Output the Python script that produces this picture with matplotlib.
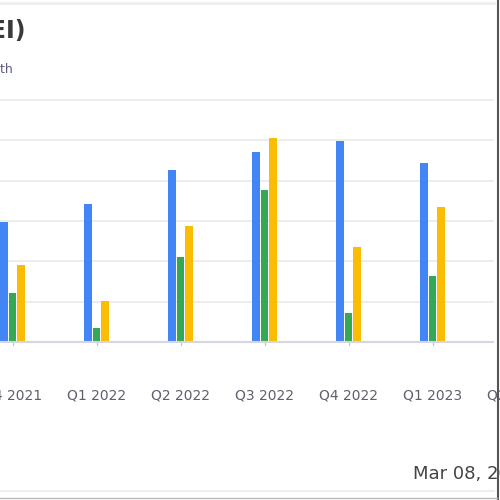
import matplotlib
matplotlib.use("Agg")
import matplotlib.pyplot as plt
from matplotlib.lines import Line2D
import numpy as np

quarters = ["Q4 2021", "Q1 2022", "Q2 2022", "Q3 2022", "Q4 2022", "Q1 2023", "Q2 2023"]
blue_vals = [2.98, 3.42, 4.27, 4.71, 4.99, 4.44]
green_vals = [1.22, 0.35, 2.11, 3.77, 0.72, 1.64]
yellow_vals = [1.91, 1.02, 2.88, 5.06, 2.36, 3.35]
series_colors = ["#4285F4", "#34A853", "#FBBC04"]
title_text = "Quarterly Financials (NYSE:EI)"
subtitle_text = "Quarterly growth"
date_text = "Mar 08, 2024"

W = H = 500
fig = plt.figure(figsize=(5, 5), dpi=100)
fig.patch.set_facecolor("white")

# axes placement (pixels): left 0, right 493, baseline 342, top ~98
ax_left, ax_right, ax_bottom = 0, 493, 342
ymax = 6.05
unit_px = 40.33
ax_top = ax_bottom - ymax * unit_px
ax = fig.add_axes([ax_left / W, 1 - ax_bottom / H, (ax_right - ax_left) / W, (ax_bottom - ax_top) / H])

spacing = 84.0
c0 = 12.5
xmin = (ax_left - c0) / spacing
xmax = (ax_right - c0) / spacing
ax.set_xlim(xmin, xmax)
ax.set_ylim(0, ymax)

x = np.arange(len(blue_vals))
w = 0.095
off = 0.105
ax.bar(x - off, blue_vals, w, color=series_colors[0], zorder=3)
ax.bar(x, green_vals, w, color=series_colors[1], zorder=3)
ax.bar(x + off, yellow_vals, w, color=series_colors[2], zorder=3)

for yv in range(1, 7):
    ax.axhline(yv, color="#ececec", lw=1.3, zorder=1, clip_on=False)
ax.axhline(0, color="#d6d6e2", lw=1.5, zorder=4, clip_on=False)

for s in ax.spines.values():
    s.set_visible(False)
ax.set_xticks([])
ax.set_yticks([])
ax.patch.set_alpha(0)

# tick marks and labels
for i, q in enumerate(quarters):
    ax.plot([i, i], [0, -0.07], color="#c8c8d4", lw=1, clip_on=False, zorder=4)
    ax.text(i, -1.33, q, ha="center", va="center", fontsize=10, color="#5f5f6e", clip_on=False)

# title and subtitle (cut by the crop on the left)
fig.text(25 / W, 1 - 31 / H, title_text, ha="right", va="center", fontsize=17,
         fontweight="semibold", color="#3a3a3a")
fig.text(13 / W, 1 - 70 / H, subtitle_text, ha="right", va="center", fontsize=9,
         color="#5c5c80")

# date
fig.text(413 / W, 1 - 474 / H, date_text, ha="left", va="center", fontsize=13, color="#444444")

# frame lines
fig.add_artist(Line2D([0, 494 / W], [1 - 3 / H, 1 - 3 / H], color="#eeeeee", lw=2))
fig.add_artist(Line2D([0, 494 / W], [1 - 491 / H, 1 - 491 / H], color="#eeeeee", lw=1.5))
fig.add_artist(Line2D([497.5 / W, 497.5 / W], [0, 1], color="#555555", lw=1.5))
fig.add_artist(Line2D([0, 497 / W], [1 - 497.5 / H, 1 - 497.5 / H], color="#bbbbbb", lw=1))

fig.savefig("out.png", dpi=100, facecolor="white")
